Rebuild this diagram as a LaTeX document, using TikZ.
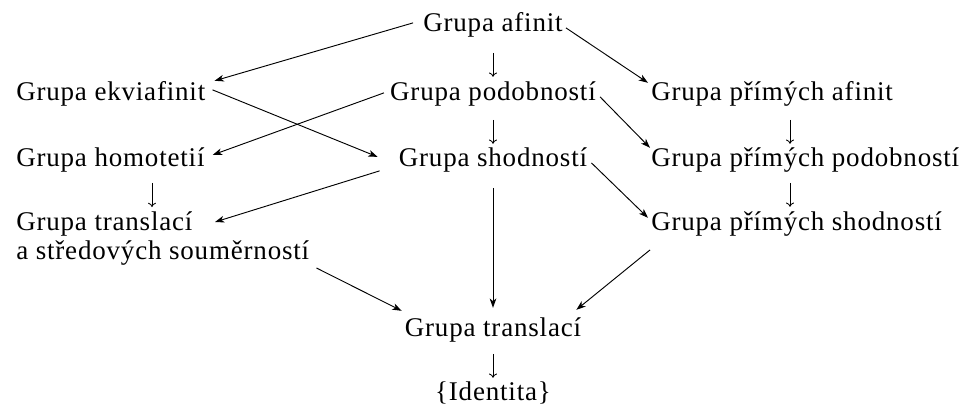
\documentclass[tikz,border=0pt]{standalone}
\usepackage{fontspec}
\setmainfont{Liberation Serif}[LetterSpace=3]
\usetikzlibrary{arrows.meta}
\begin{document}
\begin{tikzpicture}[x=0.75pt,y=-0.75pt,
  lbl/.style={inner sep=0pt, anchor=base west, font=\fontsize{20.25pt}{21.75pt}\selectfont, text height=14.2pt, text depth=5pt},
  lblc/.style={lbl, anchor=base},
  lblm/.style={inner sep=0pt, anchor=base west, align=left, font=\fontsize{20.25pt}{21.75pt}\selectfont},
  arr/.style={line width=0.7pt, -{Stealth[length=7pt,width=5pt,inset=2pt]}},
  sarr/.style 2 args={line width=0.65pt, -{To[length=3.2pt,width=6pt]}, shorten <=#1, shorten >=#2}]
\useasboundingbox (0,0) rectangle (970,411);
% nodes
\node[lblc] (afin) at (493,31) {Grupa afinit};
\node[lbl]  (ekvi) at (16,100) {Grupa ekviafinit};
\node[lblc] (podo) at (493,100) {Grupa podobností};
\node[lbl]  (pafi) at (651,100) {Grupa přímých afinit};
\node[lbl]  (homo) at (16,166) {Grupa homotetií};
\node[lblc] (shod) at (493,166) {Grupa shodností};
\node[lbl]  (ppod) at (651,166) {Grupa přímých podobností};
\node[lblm] (tsou) at (16,259) {Grupa translací\\a středových souměrností};
\node[lbl]  (psho) at (651,230) {Grupa přímých shodností};
\node[lblc] (tran) at (493,336) {Grupa translací};
\node[lblc] (iden) at (493,400) {\{Identita\}};
\coordinate (lc) at (152,0);
\coordinate (rc) at (790,0);
\coordinate (t1) at ([shift={(0,-48)}]tsou.base west);
% short vertical arrows
\draw[sarr={11.25pt}{3pt}] (afin.south) -- (podo.north);
\draw[sarr={9.75pt}{2.25pt}] (podo.south) -- (shod.north);
\draw[sarr={9.75pt}{2.25pt}] (pafi.south -| rc) -- (ppod.north -| rc);
\draw[sarr={7.5pt}{3pt}] (ppod.south -| rc) -- (psho.north -| rc);
\draw[sarr={7.5pt}{3pt}] (homo.south -| lc) -- (t1 -| lc);
\draw[sarr={8.25pt}{2.25pt}] (tran.south) -- (iden.north);
% long arrows
\draw[arr] ([shift={(-10,-2)}]afin.west) -- ([shift={(9,0)}]ekvi.north east);
\draw[arr] ([shift={(3,3)}]afin.east) -- ([shift={(-3,2)}]pafi.north west);
\draw[arr] ([shift={(7,-4)}]ekvi.east) -- ([shift={(-21,-3)}]shod.west);
\draw[arr] ([shift={(-6,-1)}]podo.west) -- ([shift={(8,-5)}]homo.east);
\draw[arr] ([shift={(4,3)}]podo.east) -- ([shift={(-1,1)}]ppod.north west);
\draw[arr] ([shift={(-19,11)}]shod.west) -- ([shift={(199,-37)}]tsou.base west);
\draw[arr] ([shift={(4,3)}]shod.east) -- ([shift={(-3,7)}]psho.north west);
\draw[arr, shorten <=11.25pt, shorten >=6.75pt] (shod.south) -- (tran.north);
\draw[arr] ([shift={(7,9)}]tsou.base east) -- ([shift={(-3,-6)}]tran.north west);
\draw[arr] ([shift={(-1,13)}]psho.south west) -- ([shift={(-5,-7)}]tran.north east);
\end{tikzpicture}
\end{document}
